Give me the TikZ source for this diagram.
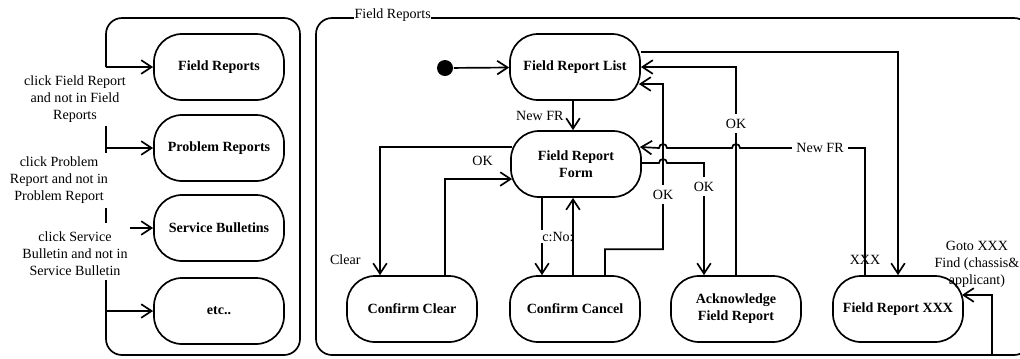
\documentclass[tikz,border=0pt]{standalone}
\usepackage{fontspec}
\setmainfont{Liberation Serif}
\usepackage{tikz}
\usetikzlibrary{arrows.meta}

\begin{document}
\begin{tikzpicture}[x=0.025cm, y=-0.025cm, line width=1.2pt,
  state/.style={draw, rounded corners=7mm, minimum width=3.25cm, minimum height=1.65cm, align=center, font=\bfseries},
  trans/.style={-{Straight Barb[length=2.6mm,width=3.4mm]}},
  lbl/.style={align=center, font=\fontsize{10}{12.2}\selectfont}]

\useasboundingbox (0,0) rectangle (1020,358);

% left container
\draw[rounded corners=4mm] (106,67) -- (106,18) -- (300,18) -- (300,355) -- (106,355) -- (106,280);
\draw (106,126) -- (106,153);
\draw (106,208) -- (106,223);

\node (lfr) at (219,67) [state]{Field Reports};
\node (lpr) at (219,148) [state]{Problem Reports};
\node (lsb) at (219,228) [state]{Service Bulletins};
\node (letc) at (219,311) [state]{etc..};

\coordinate (in1) at (106,67);
\coordinate (in2) at (106,148);
\coordinate (in3) at (130,228);
\coordinate (in4) at (106,311);
\draw[trans] (in1) -- (lfr.west);
\draw[trans] (in2) -- (lpr.west);
\draw[trans] (in3) -- (lsb.west);
\draw[trans] (in4) -- (letc.west);

\node (l1) at (75,99) [lbl]{click Field Report\\and not in Field\\Reports};
\node (l2) at (59,180) [lbl]{click Problem\\Report and not in\\Problem Report};
\node (l3) at (75,254) [lbl]{click Service\\Bulletin and not in\\Service Bulletin};

% right container
\draw[rounded corners=4mm] (316,18) rectangle (1030,355);
\node (title) at (353,18) [lbl, anchor=base west, fill=white, inner sep=0.5pt]{Field Reports};

\node (init) at (445,68) [circle, fill, inner sep=0pt, minimum size=4mm]{};
\node (frlist) at (575,67) [state]{Field Report List};
\node (frform) at (576,164) [state]{Field Report\\Form};
\node (cclear) at (412,309) [state]{Confirm Clear};
\node (ccancel) at (575,309) [state]{Confirm Cancel};
\node (ackfr) at (736,309) [state]{Acknowledge\\Field Report};
\node (frxxx) at (898,309) [state]{Field Report XXX};

\draw[trans] (init) -- (frlist);
\draw[trans] ([xshift=-0.5mm]frlist.south) -- ([xshift=-0.75mm]frform.north)
  node[lbl, midway, left=1mm]{New FR};
\draw[trans] ([yshift=3.75mm]frlist.east) -| (frxxx.north)
  node[lbl, pos=0.965, xshift=-8.25mm]{XXX};
\draw[trans] ([xshift=-8.25mm]frxxx.north) |- (740,148)
  node[lbl, pos=0.68, fill=white]{New FR}
  arc[start angle=0, end angle=-180, radius=4] -- (667,148)
  arc[start angle=0, end angle=-180, radius=4] -- ([xshift=-0.5mm,yshift=4.25mm]frform.east);
\draw[trans] (ackfr.north) |- (frlist.east)
  node[lbl, pos=0.364, fill=white]{OK};
\draw[trans] ([xshift=7.5mm]ccancel.north) -- ++(0,-26) -| (663,84)
  node[lbl, pos=0.665, fill=white]{OK}
  -- ([xshift=-0.5mm,yshift=-4.25mm]frlist.east);
\draw[trans] ([yshift=0.25mm]frform.east) -- (659,163)
  arc[start angle=180, end angle=360, radius=4] -| ([xshift=-8mm]ackfr.north)
  node[lbl, pos=0.605, fill=white]{OK};
\draw[trans] ([xshift=0.5mm,yshift=4.25mm]frform.west) -| ([xshift=-8mm]cclear.north)
  node[lbl, pos=0.94, left=3.5mm]{Clear};
\draw[trans] ([xshift=8.25mm]cclear.north) |- ([xshift=0.5mm,yshift=-3.75mm]frform.west)
  node[lbl, pos=0.78, above=2mm]{OK};
\draw[trans] ([xshift=-8.5mm]frform.south) -- ([xshift=-8.25mm]ccancel.north)
  node[lbl, midway, fill=white, xshift=4mm, inner sep=1pt]{c:No:};
\draw[trans] ([xshift=-0.5mm]ccancel.north) -- ([xshift=-0.75mm]frform.south);

\coordinate (gotoin) at (992,355);
\draw[trans] (gotoin) |- ([xshift=-0.5mm,yshift=3.5mm]frxxx.east)
  node[lbl, pos=0.75, above=0.5mm]{Goto XXX\\Find (chassis\&\\applicant)};

\end{tikzpicture}
\end{document}
